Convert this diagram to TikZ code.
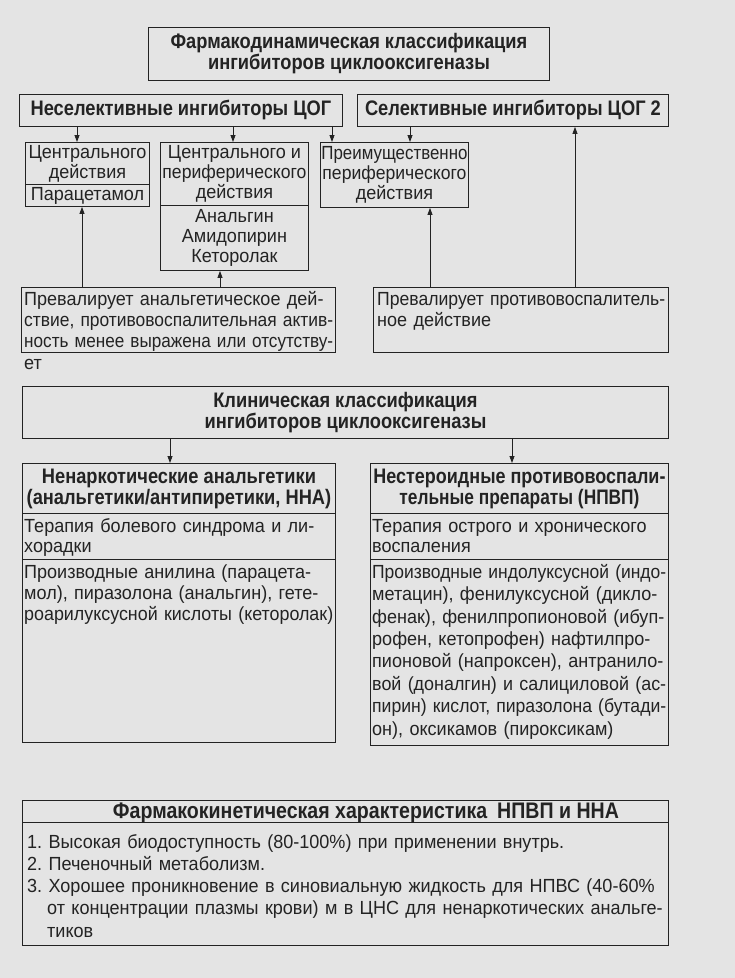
\documentclass[tikz,border=0pt]{standalone}
\usepackage{fontspec}
\setmainfont{Liberation Sans}
\newfontfamily\hfont{Liberation Sans}[FakeStretch=0.87]
\newfontfamily\bfont{Liberation Sans}[FakeStretch=0.95]
\usetikzlibrary{arrows.meta}
\frenchspacing
\definecolor{bg}{RGB}{228,228,228}
\definecolor{ink}{RGB}{35,35,35}
\newsavebox\jbox
\newlength\jlen
% justified line of width #1 (shrunk if too wide)
\newcommand\jl[2]{\sbox\jbox{#2}\ifdim\wd\jbox>#1\relax\jlen=\wd\jbox\pgfmathsetmacro\jr{#1/\jlen}\scalebox{\jr}[1]{\usebox\jbox}\else\makebox[#1][s]{#2}\fi}
% fit line into width #1 (shrink only)
\newcommand\fw[2]{\sbox\jbox{#2}\ifdim\wd\jbox>#1\relax\jlen=\wd\jbox\pgfmathsetmacro\jr{#1/\jlen}\scalebox{\jr}[1]{\usebox\jbox}\else\usebox\jbox\fi}
\tikzset{
  box/.style={draw=ink, line width=0.9pt, inner sep=0pt, anchor=north west, align=center, text=ink},
  hd/.style={font=\hfont\bfseries\fontsize{21}{21}\selectfont},
  bd/.style={font=\bfont\fontsize{19}{20}\selectfont},
  txt/.style={anchor=north west, inner sep=0pt, align=left, text=ink},
  arr/.style={draw=ink, line width=0.8pt, -{Triangle[length=7pt,width=5pt]}}
}
\begin{document}
\begin{tikzpicture}[x=1pt,y=-1pt]
\fill[bg] (0,0) rectangle (735,978);
\useasboundingbox (0,0) rectangle (735,978);

% x positions of connectors
\coordinate (xa) at (77,0);
\coordinate (xb) at (233,0);
\coordinate (xc) at (332,0);
\coordinate (xd) at (410,0);
\coordinate (xe) at (82,0);
\coordinate (xf) at (220,0);
\coordinate (xg) at (430,0);
\coordinate (xh) at (575,0);
\coordinate (xi) at (170,0);
\coordinate (xj) at (512,0);

% pharmacodynamic classification
\node[box, hd, minimum width=401pt, minimum height=53pt] (title) at (148,27)
  {Фармакодинамическая классификация\\ингибиторов циклооксигеназы};
\node[box, hd, minimum width=323pt, minimum height=32pt] (nonsel) at (19,94)
  {\fw{312pt}{Неселективные ингибиторы ЦОГ}};
\node[box, hd, minimum width=311pt, minimum height=32pt] (sel) at (357,94)
  {\fw{300pt}{Селективные ингибиторы ЦОГ 2}};

\node[box, bd, minimum width=124pt, minimum height=42pt] (c1a) at (25,142)
  {\fw{120pt}{Центрального}\\действия};
\node[box, bd, minimum width=124pt, minimum height=22pt] (c1b) at (25,184)
  {\fw{120pt}{Парацетамол}};
\node[box, bd, minimum width=148pt, minimum height=63pt] (c2a) at (160,142)
  {Центрального и\\\fw{144pt}{периферического}\\действия};
\node[box, bd, minimum width=148pt, minimum height=65pt] (c2b) at (160,205)
  {Анальгин\\Амидопирин\\Кеторолак};
\node[box, bd, minimum width=148pt, minimum height=65pt] (c3) at (320,142)
  {\fw{146pt}{Преимущественно}\\\fw{144pt}{периферического}\\действия};

\node[box, minimum width=314pt, minimum height=65pt] (pl) at (21,287) {};
\node[txt, font=\bfont\fontsize{19}{21}\selectfont, text width=309pt] (pltx) at (24,291)
  {\noindent\rule{0pt}{14pt}\jl{309pt}{Превалирует анальгетическое дей-}\\
   \jl{309pt}{ствие, противовоспалительная актив-}\\
   \jl{309pt}{ность менее выражена или отсутству-}\\[1pt]
   ет};
\node[box, minimum width=295pt, minimum height=65pt] (pr) at (373,287) {};
\node[txt, font=\bfont\fontsize{19}{21}\selectfont, text width=288pt] (prtx) at (377,291)
  {\noindent\rule{0pt}{14pt}\jl{288pt}{Превалирует противовоспалитель-}\\
   ное действие};

% clinical classification
\node[box, hd, minimum width=646pt, minimum height=52pt] (clin) at (22,386)
  {Клиническая классификация\\ингибиторов циклооксигеназы};

\node[box, hd, minimum width=313pt, minimum height=50pt] (nnah) at (22,463)
  {\fw{290pt}{Ненаркотические анальгетики}\\\fw{306pt}{(анальгетики/антипиретики, ННА)}};
\node[box, minimum width=313pt, minimum height=46pt] (nnat) at (22,513) {};
\node[box, minimum width=313pt, minimum height=183pt] (nnad) at (22,559) {};
\node[txt, font=\bfont\fontsize{19}{20}\selectfont, text width=309pt] (nnattx) at (24,518)
  {\noindent\rule{0pt}{14pt}\jl{309pt}{Терапия болевого синдрома и ли-}\\
   хорадки};
\node[txt, font=\bfont\fontsize{19}{21}\selectfont, text width=309pt] (nnadtx) at (24,564)
  {\noindent\rule{0pt}{14pt}\jl{309pt}{Производные анилина (парацета-}\\
   \jl{309pt}{мол), пиразолона (анальгин), гете-}\\
   \jl{309pt}{роарилуксусной кислоты (кеторолак)}};

\node[box, hd, minimum width=298pt, minimum height=50pt] (npvh) at (370,463)
  {\fw{292pt}{Нестероидные противовоспали-}\\\fw{240pt}{тельные препараты (НПВП)}};
\node[box, minimum width=298pt, minimum height=46pt] (npvt) at (370,513) {};
\node[box, minimum width=298pt, minimum height=186pt] (npvd) at (370,559) {};
\node[txt, font=\bfont\fontsize{19}{20}\selectfont, text width=294pt] (npvttx) at (372,518)
  {\noindent\rule{0pt}{14pt}\jl{294pt}{Терапия острого и хронического}\\
   воспаления};
\node[txt, font=\bfont\fontsize{19}{22.4}\selectfont, text width=294pt] (npvdtx) at (372,564)
  {\noindent\rule{0pt}{14pt}\jl{294pt}{Производные индолуксусной (индо-}\\
   \jl{294pt}{метацин), фенилуксусной (дикло-}\\
   \jl{294pt}{фенак), фенилпропионовой (ибуп-}\\
   \jl{294pt}{рофен, кетопрофен) нафтилпро-}\\
   \jl{294pt}{пионовой (напроксен), антранило-}\\
   \jl{294pt}{вой (доналгин) и салициловой (ас-}\\
   \jl{294pt}{пирин) кислот, пиразолона (бутади-}\\
   он), оксикамов (пироксикам)};

% pharmacokinetics
\node[box, minimum width=646pt, minimum height=22pt] (pkh) at (22,800) {};
\node[box, minimum width=646pt, minimum height=123pt] (pkb) at (22,822) {};
\node[anchor=base, inner sep=0pt, text=ink, font=\hfont\bfseries\fontsize{22.5}{22}\selectfont] (pkt) at (366,818)
  {Фармакокинетическая характеристика\hspace{10pt}НПВП и ННА};
\node[txt, font=\bfont\fontsize{19}{22.2}\selectfont, text width=638pt] (pktx) at (27,834)
  {\noindent\rule{0pt}{14pt}1. Высокая биодоступность (80-100\%) при применении внутрь.\\
   2. Печеночный метаболизм.\\
   \jl{638pt}{3. Хорошее проникновение в синовиальную жидкость для НПВС (40-60\%}\\
   \hspace*{20pt}\jl{618pt}{от концентрации плазмы крови) м в ЦНС для ненаркотических анальге-}\\
   \hspace*{20pt}тиков};

% connectors
\draw[arr] (nonsel.south -| xa) -- (c1a.north -| xa);
\draw[arr] (nonsel.south -| xb) -- (c2a.north -| xb);
\draw[arr] (nonsel.south -| xc) -- (c3.north -| xc);
\draw[arr] (sel.south -| xd) -- (c3.north -| xd);
\draw[arr] (pl.north -| xe) -- (c1b.south -| xe);
\draw[arr] (pl.north -| xf) -- (c2b.south -| xf);
\draw[arr] (pr.north -| xg) -- (c3.south -| xg);
\draw[arr] (pr.north -| xh) -- (sel.south -| xh);
\draw[arr] (clin.south -| xi) -- (nnah.north -| xi);
\draw[arr] (clin.south -| xj) -- (npvh.north -| xj);
\end{tikzpicture}
\end{document}
